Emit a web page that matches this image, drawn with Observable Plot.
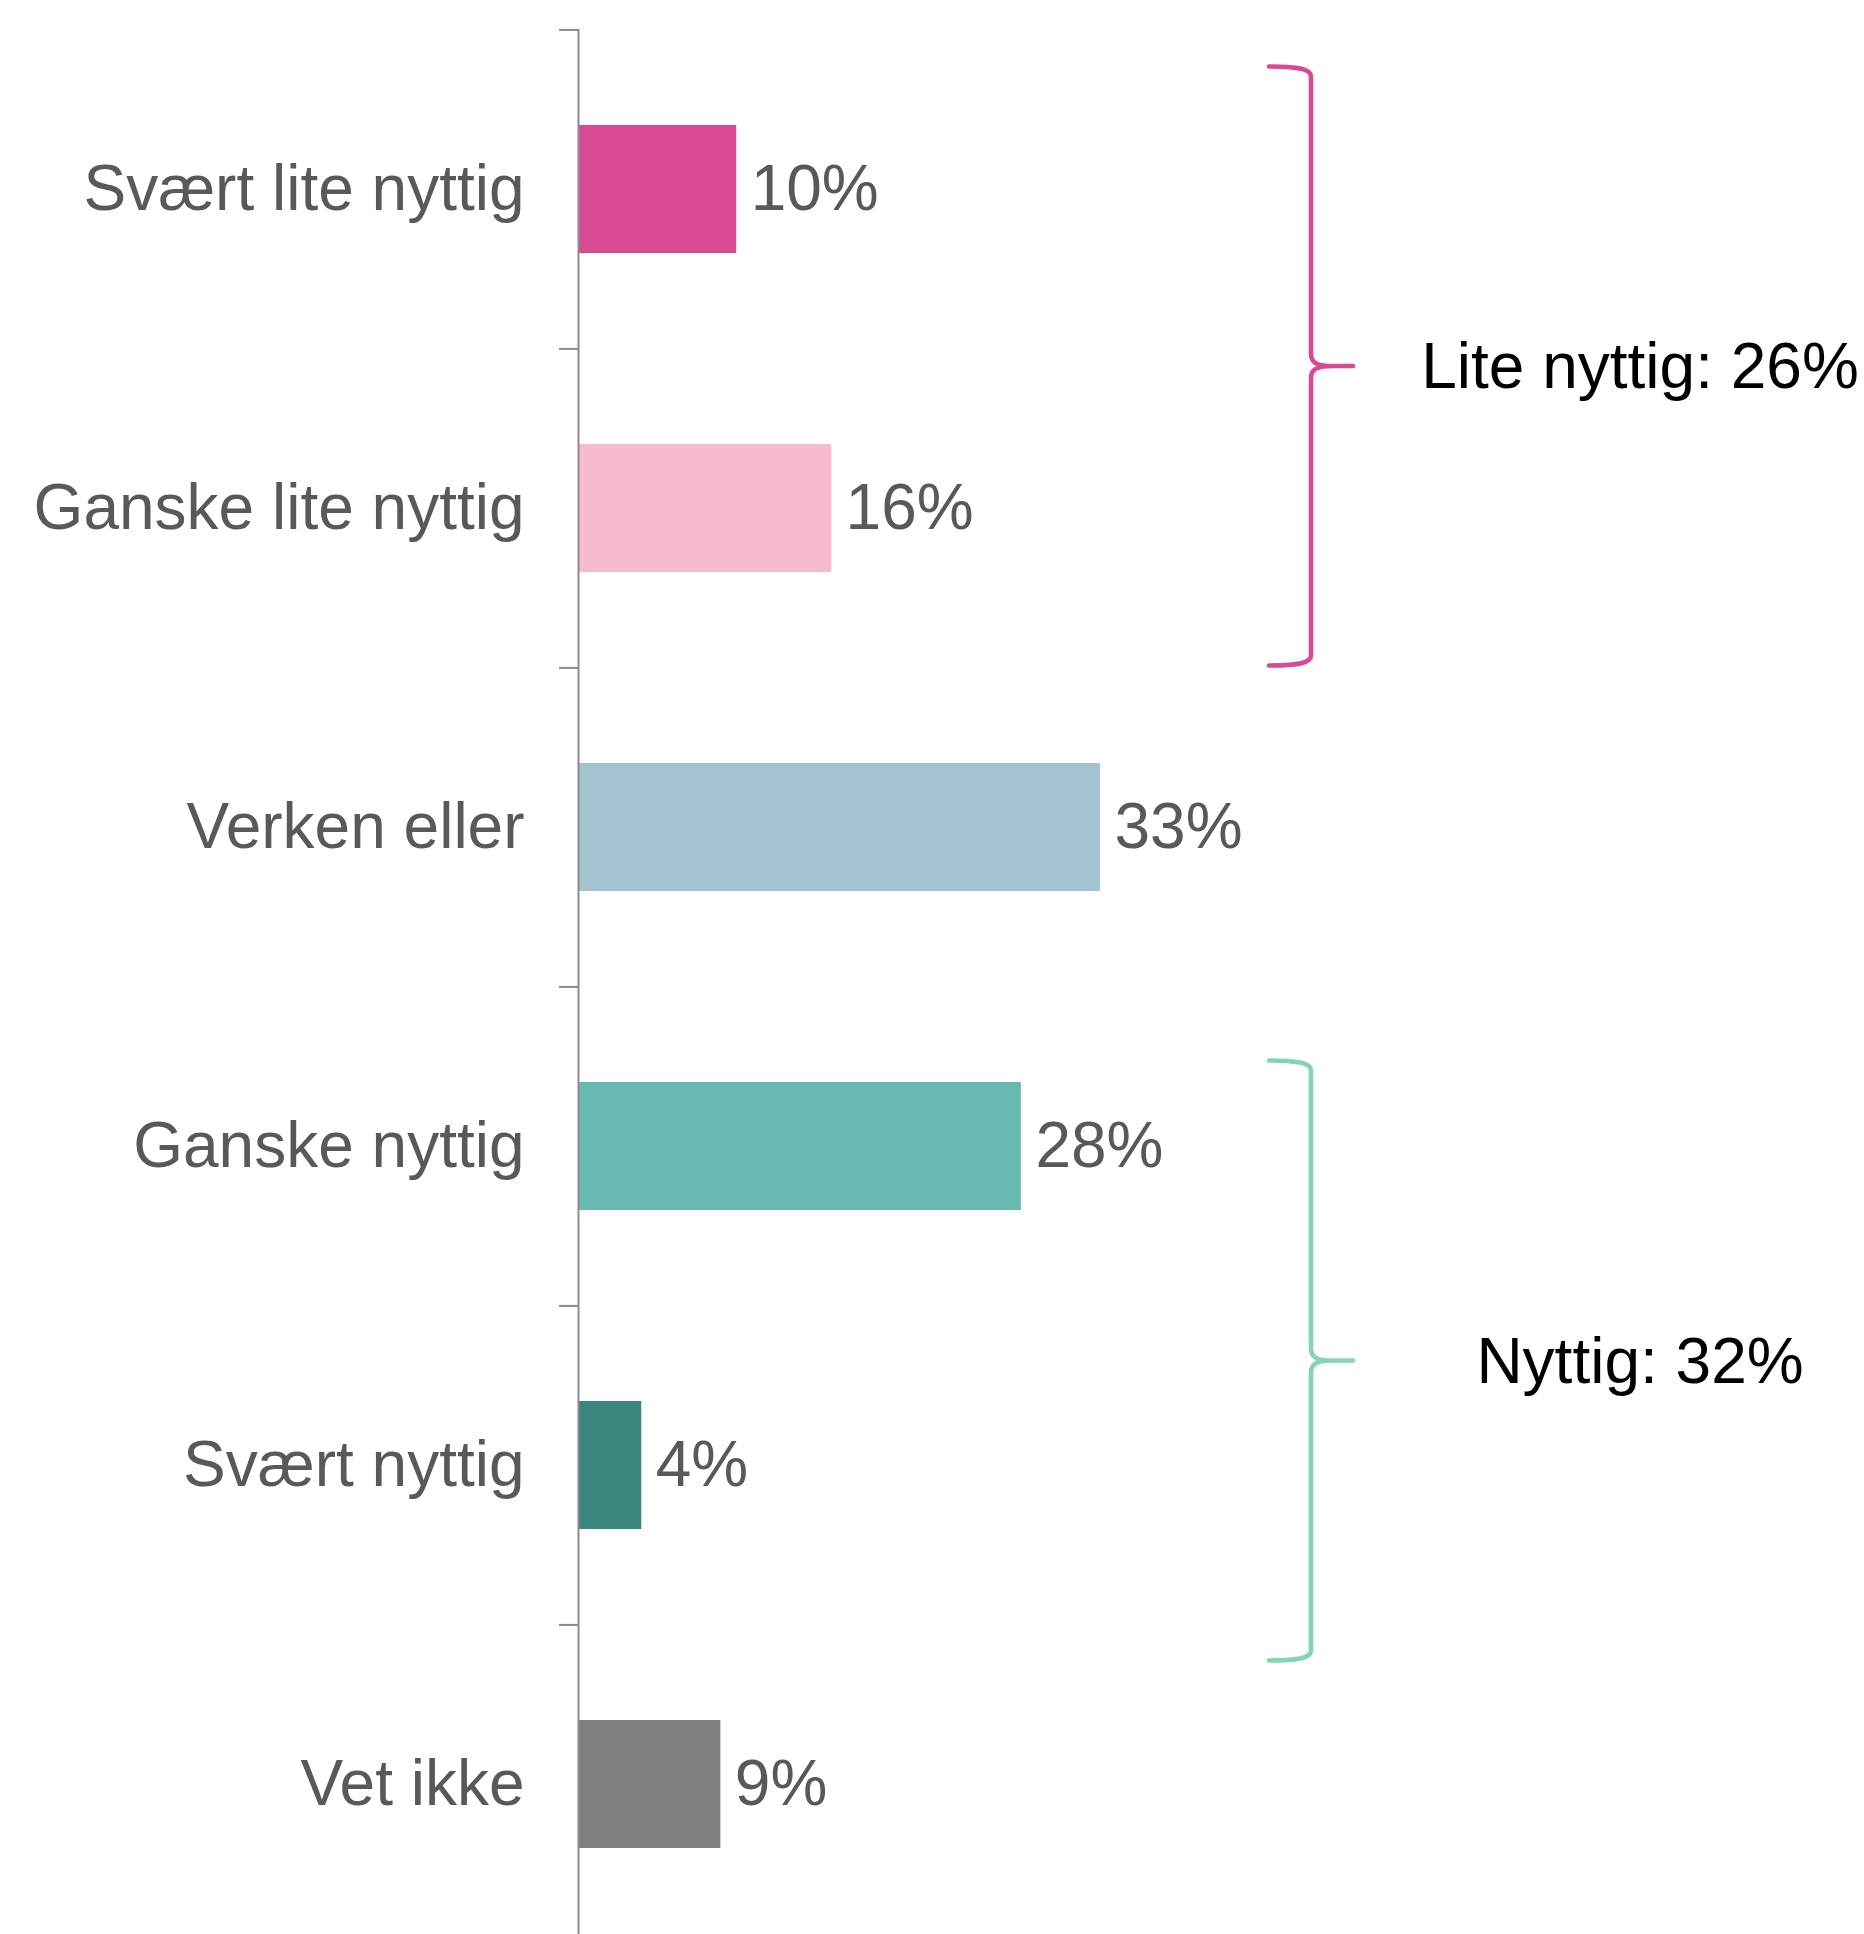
<!DOCTYPE html>
<html>
<head>
<meta charset="utf-8">
<script src="https://cdn.jsdelivr.net/npm/d3@7"></script>
<script src="https://cdn.jsdelivr.net/npm/@observablehq/plot@0.6"></script>
<style>
  html, body { margin: 0; padding: 0; background: #ffffff; overflow: hidden; }
</style>
</head>
<body>
<div id="chart"></div>
<script>
// ---- Data ----
const categories = ["Svært lite nyttig", "Ganske lite nyttig", "Verken eller", "Ganske nyttig", "Svært nyttig", "Vet ikke"];
const values = [10, 16, 33, 28, 4, 9];
const barColors = ["#D94A94", "#F6BBCF", "#A3C3D1", "#68B8B2", "#3A857D", "#7F7F7F"];

const groupLabels = ["Lite nyttig: 26%", "Nyttig: 32%"];
const groupFirst = ["Svært lite nyttig", "Ganske nyttig"];
const groupLast = ["Ganske lite nyttig", "Svært nyttig"];
const groupColors = ["#D94A94", "#86D5AE"];

// ---- Layout / style ----
const W = 1864, H = 1934;
const textColor = "#595959";
const axisColor = "#8C8C8C";
const fontSize = 64;
const xMax = 81.3;
const pxPerUnit = (W - 578) / xMax;
const yRange = [29, 1944];
const braceInsets = [[37, -2], [74, 36]]; // pixel insets of brace ends relative to band edges

const data = categories.map((c, i) => ({category: c, value: values[i]}));

function braces(index, scales, channels, dims) {
  const y = scales.y;
  const bw = y.bandwidth ? y.bandwidth() : 0;
  const step = y(categories[1]) - y(categories[0]);
  const bandTop = c => y(c) + bw / 2 - step / 2;
  const bandBottom = c => y(c) + bw / 2 + step / 2;
  const xl = dims.width - 595, xv = dims.width - 553, xt = dims.width - 511, xLabel = dims.width - 224;
  const g = d3.create("svg:g");
  groupLabels.forEach((label, i) => {
    const yT = bandTop(groupFirst[i]) + braceInsets[i][0];
    const yB = bandBottom(groupLast[i]) + braceInsets[i][1];
    const yM = (yT + yB) / 2;
    const p = d3.path();
    p.moveTo(xl, yT);
    p.bezierCurveTo(xl + 28, yT, xv, yT + 2, xv, yT + 10);
    p.lineTo(xv, yM - 12);
    p.bezierCurveTo(xv, yM - 2, xv + 8, yM, xv + 22, yM);
    p.lineTo(xt, yM);
    p.moveTo(xv + 22, yM);
    p.bezierCurveTo(xv + 8, yM, xv, yM + 2, xv, yM + 12);
    p.lineTo(xv, yB - 10);
    p.bezierCurveTo(xv, yB - 2, xl + 28, yB, xl, yB);
    g.append("path")
      .attr("d", p.toString())
      .attr("fill", "none")
      .attr("stroke", groupColors[i])
      .attr("stroke-width", 4.6)
      .attr("stroke-linecap", "round")
      .attr("stroke-linejoin", "round");
    g.append("text")
      .attr("x", xLabel)
      .attr("y", yM)
      .attr("dy", "0.35em")
      .attr("text-anchor", "middle")
      .attr("fill", "#000000")
      .attr("font-size", 64)
      .text(label);
  });
  return g.node();
}

const chart = Plot.plot({
  width: W,
  height: H,
  marginLeft: 578,
  marginRight: 0,
  marginTop: 29,
  marginBottom: 0,
  style: {fontFamily: "'Liberation Sans', Arial, sans-serif", background: "#ffffff"},
  x: {domain: [0, xMax], axis: null},
  y: {domain: categories, range: yRange, paddingInner: 0.6, paddingOuter: 0.3, axis: null},
  color: {domain: categories, range: barColors},
  marks: [
    Plot.barX(data, {x: "value", y: "category", fill: "category"}),
    Plot.ruleX([0], {stroke: axisColor, strokeWidth: 2}),
    Plot.ruleY(data, {y: "category", x1: -19 / pxPerUnit, x2: 0, dy: -(yRange[1] - yRange[0]) / categories.length / 2, stroke: axisColor, strokeWidth: 2}),
    Plot.text(data, {x: "value", y: "category", text: d => d.value + "%", textAnchor: "start", dx: 14, fill: textColor, fontSize: fontSize}),
    Plot.text(data, {y: "category", text: "category", frameAnchor: "left", textAnchor: "end", dx: -54, fill: textColor, fontSize: fontSize}),
    braces
  ]
});
document.getElementById("chart").appendChild(chart);
</script>
</body>
</html>
